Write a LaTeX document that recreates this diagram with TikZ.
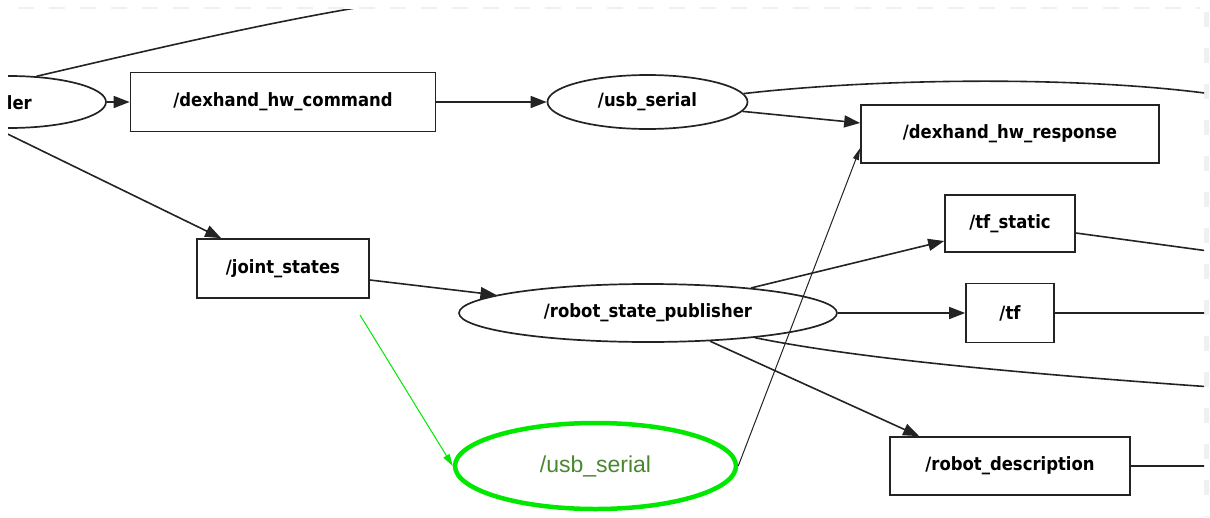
\documentclass[tikz,border=0pt]{standalone}
\usepackage{fontspec}
\setmainfont{DejaVu Sans}
\newfontfamily\labelface{DejaVu Sans Condensed Bold}
\newfontfamily\hifont{Liberation Sans}
\usetikzlibrary{arrows.meta,shapes.geometric,calc}
\definecolor{hiline}{RGB}{0,232,0}
\definecolor{hitext}{RGB}{72,135,48}
\definecolor{inkline}{RGB}{35,35,35}
\begin{document}
\begin{tikzpicture}[x=1pt,y=-1pt,
  labelfont/.style={font=\labelface\fontsize{18.3}{20}\selectfont},
  topic/.style={draw=inkline, line width=1.7pt, rectangle, inner sep=0pt, labelfont},
  procell/.style={draw=inkline, line width=1.7pt, ellipse, inner sep=0pt, labelfont},
  hinode/.style={draw=hiline, line width=4.5pt, ellipse, inner sep=0pt, text=hitext,
    font=\hifont\fontsize{23}{26}\selectfont},
  link/.style={draw=inkline, line width=1.6pt, -{Triangle[length=16pt,width=12pt]}},
  plain/.style={draw=inkline, line width=1.6pt},
  thinlink/.style={draw=inkline, line width=1pt, -{Triangle[length=12pt,width=6pt]}},
  hilink/.style={draw=hiline, line width=1pt, -{Triangle[length=12pt,width=7pt]}},
  frame/.style={draw=black!6, dash pattern=on 16pt off 15pt}
]
\useasboundingbox (0,0) rectangle (1210,517);

% faint dashed frame of the canvas
\draw[frame, line width=1.5pt] (18,8) -- (1200,8);
\draw[frame, line width=5pt, dash pattern=on 15pt off 21pt] (1206,12) -- (1206,517);

\begin{scope}
\clip (8,9) rectangle (1204,517);

% nodes
\node[procell, minimum width=194pt, minimum height=52pt] (ctrl) at (9,102) {};
\node[labelfont, anchor=east, inner sep=0pt] (ctrltext) at (32,103) {ler};
\node[topic, minimum width=305pt, minimum height=59pt] (cmd) at (283,102) {/dexhand\_hw\_command};
\node[procell, minimum width=200pt, minimum height=54pt] (usb) at (647.5,102) {/usb\_serial};
\node[topic, minimum width=298pt, minimum height=58pt] (resp) at (1010,134) {/dexhand\_hw\_response};
\node[topic, minimum width=130pt, minimum height=57pt] (tfs) at (1010,223.5) {/tf\_static};
\node[topic, minimum width=88pt, minimum height=59pt] (tf) at (1010,313) {/tf};
\node[topic, minimum width=240pt, minimum height=58pt] (rdesc) at (1010,466) {/robot\_description};
\node[topic, minimum width=172pt, minimum height=59pt] (js) at (283,268.5) {/joint\_states};
\node[procell, minimum width=378pt, minimum height=58pt] (rsp) at (648,313) {/robot\_state\_publisher};
\node[hinode, minimum width=281pt, minimum height=86pt] (green) at (595.5,466) {/usb\_serial};

% free ends of edges leaving the canvas
\coordinate (topout) at (420,-2);
\coordinate (gstart) at (360,315);
\coordinate (rt1) at (1212,94);
\coordinate (rt2) at (1212,251.5);
\coordinate (rt3) at (1212,313);
\coordinate (rt4) at (1212,387);
\coordinate (rt5) at (1212,466);

% edges
\draw[plain] (ctrl.43) .. controls (150,50) and (300,14) .. (topout);
\draw[link] (ctrl.east) -- (cmd.west);
\draw[link] (ctrl.-115) -- ($(js.north west)+(25,0)$);
\draw[link] (cmd.east) -- (usb.west);
\draw[plain] (usb.5) .. controls (880,78) and (1080,76) .. (rt1);
\draw[link] (usb) -- ($(resp.west)+(0,-11)$);
\draw[thinlink] (green.east) -- ($(resp.west)+(0,14)$);
\draw[link] ($(js.east)+(0,11.5)$) -- (rsp);
\draw[hilink] (gstart) -- (green.west);
\draw[link] (rsp) -- ($(tfs.west)+(0,17.5)$);
\draw[link] (rsp.east) -- (tf.west);
\draw[plain] (rsp.-13) .. controls (850,357) and (1000,372) .. (rt4);
\draw[link] (rsp) -- ($(rdesc.north west)+(30,0)$);
\draw[plain] ($(tfs.east)+(0,9.5)$) -- (rt2);
\draw[plain] (tf.east) -- (rt3);
\draw[plain] (rdesc.east) -- (rt5);
\end{scope}
\end{tikzpicture}
\end{document}
